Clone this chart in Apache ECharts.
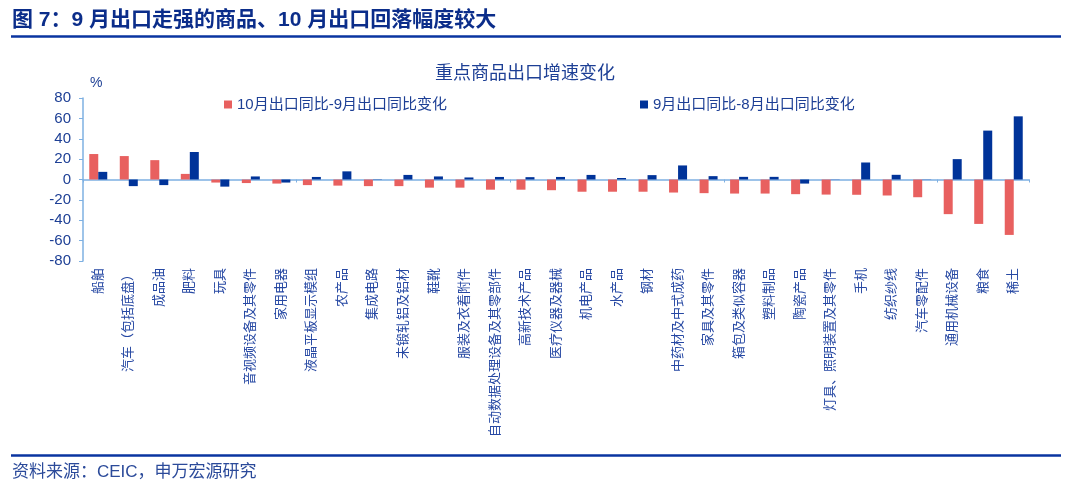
<!DOCTYPE html>
<html>
<head>
<meta charset="utf-8">
<script src="https://cdn.jsdelivr.net/npm/echarts@6/dist/echarts.min.js"></script>
<style>
  html, body { margin: 0; padding: 0; background: #fff; }
  #chart { width: 1080px; height: 495px; }
</style>
</head>
<body>
<div id="chart"></div>
<script>
var categories = ['船舶', '汽车（包括底盘）', '成品油', '肥料', '玩具', '音视频设备及其零件', '家用电器',
  '液晶平板显示模组', '农产品', '集成电路', '未锻轧铝及铝材', '鞋靴', '服装及衣着附件',
  '自动数据处理设备及其零部件', '高新技术产品', '医疗仪器及器械', '机电产品', '水产品', '钢材',
  '中药材及中式成药', '家具及其零件', '箱包及类似容器', '塑料制品', '陶瓷产品',
  '灯具、照明装置及其零件', '手机', '纺织纱线', '汽车零配件', '通用机械设备', '粮食', '稀土'];
// 10月出口同比-9月出口同比
var octMinusSep = [25, 23, 19, 5.5, -3, -3.5, -4, -5.5, -6, -6.5, -6.5, -8, -8, -10, -10, -10.5,
  -12, -12, -12, -12.8, -13.4, -13.8, -13.8, -14.4, -14.8, -15, -15.7, -17.4, -34, -43.6, -54.4];
// 9月出口同比-8月出口同比
var sepMinusAug = [7.5, -6.5, -5.5, 27, -7, 3, -3, 2.5, 8, 0.3, 4.5, 3, 2, 2.5, 2.3, 2.5,
  4.5, 1.5, 4.3, 13.8, 3.3, 2.6, 2.6, -4, 0.2, 16.7, 4.6, 0.2, 20, 48, 62];
var seriesNames = ['10月出口同比-9月出口同比变化', '9月出口同比-8月出口同比变化'];

var axisBlue = '#7eb0e2';
var font = "'Liberation Sans', 'Noto Sans CJK SC', sans-serif";

var chart = echarts.init(document.getElementById('chart'));
var option = {
  animation: false,
  textStyle: { fontFamily: font },
  title: {
    text: '重点商品出口增速变化',
    left: 520, top: 60, textAlign: 'center',
    textStyle: { fontSize: 18, fontWeight: 'normal', color: '#1d3f95', fontFamily: font }
  },
  legend: [{
    data: [seriesNames[0]],
    left: 219, top: 92,
    icon: 'rect', itemWidth: 8, itemHeight: 8, itemGap: 4,
    textStyle: { fontSize: 15, color: '#1d3f95', fontFamily: font }
  }, {
    data: [seriesNames[1]],
    left: 635, top: 92,
    icon: 'rect', itemWidth: 8, itemHeight: 8, itemGap: 4,
    textStyle: { fontSize: 15, color: '#1d3f95', fontFamily: font }
  }],
  grid: { left: 83, right: 51, top: 98, bottom: 234, containLabel: false },
  xAxis: [{
    type: 'category',
    data: categories,
    position: 'bottom',
    axisLine: { show: false, onZero: false },
    axisTick: { show: false },
    axisLabel: {
      rotate: 90, interval: 0, margin: 7,
      fontSize: 13, color: '#2648a3', fontFamily: font
    }
  }, {
    type: 'category',
    data: categories,
    position: 'bottom',
    axisLine: { show: true, onZero: true, lineStyle: { color: axisBlue, width: 1.5 } },
    axisTick: { show: true, length: 3, lineStyle: { color: axisBlue } },
    axisLabel: { show: false }
  }],
  yAxis: {
    type: 'value',
    min: -80, max: 80, interval: 20,
    axisLine: { show: true, lineStyle: { color: axisBlue, width: 1.5 } },
    axisTick: { show: true, length: 4, lineStyle: { color: axisBlue } },
    splitLine: { show: false },
    axisLabel: { fontSize: 15, color: '#1d3f95', margin: 12, fontFamily: font }
  },
  series: [{
    name: seriesNames[0],
    type: 'bar',
    xAxisIndex: 0,
    data: octMinusSep,
    barWidth: 9,
    barGap: '0%',
    itemStyle: { color: '#e8605f' }
  }, {
    name: seriesNames[1],
    type: 'bar',
    xAxisIndex: 0,
    data: sepMinusAug,
    barWidth: 9,
    barGap: '0%',
    itemStyle: { color: '#003399' }
  }],
  graphic: [{
    type: 'text', left: 12, top: 10,
    style: {
      text: '图 7：9 月出口走强的商品、10 月出口回落幅度较大',
      fontSize: 21, fontWeight: 'bold', fill: '#0b2d8a', fontFamily: font
    }
  }, {
    type: 'line',
    shape: { x1: 11, y1: 36.5, x2: 1061, y2: 36.5 },
    style: { stroke: '#0a34a0', lineWidth: 2.5 }
  }, {
    type: 'text', left: 90, top: 76,
    style: { text: '%', fontSize: 14, fill: '#1d3f95', fontFamily: font }
  }, {
    type: 'line',
    shape: { x1: 11, y1: 455.5, x2: 1061, y2: 455.5 },
    style: { stroke: '#0a34a0', lineWidth: 2.5 }
  }, {
    type: 'text', left: 12, top: 464,
    style: { text: '资料来源：CEIC，申万宏源研究', fontSize: 17, fill: '#2b4a9a', fontFamily: font }
  }]
};
chart.setOption(option);
</script>
</body>
</html>
